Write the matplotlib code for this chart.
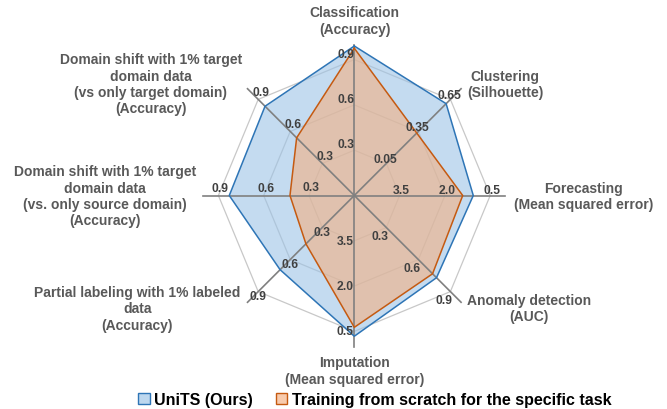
import numpy as np
import matplotlib
matplotlib.use("Agg")
import matplotlib.pyplot as plt
from matplotlib.patches import Patch

plt.rcParams['font.family'] = ['Liberation Sans', 'DejaVu Sans']
plt.rcParams['font.weight'] = 'bold'

# axes, clockwise from the top
categories = ["Classification\n(Accuracy)",
              "Clustering\n(Silhouette)",
              "Forecasting\n(Mean squared error)",
              "Anomaly detection\n(AUC)",
              "Imputation\n(Mean squared error)",
              "Partial labeling with 1% labeled\ndata\n(Accuracy)",
              "Domain shift with 1% target\ndomain data\n(vs. only source domain)\n(Accuracy)",
              "Domain shift with 1% target\ndomain data\n(vs only target domain)\n(Accuracy)"]
tick_labels = [["0.3", "0.6", "0.9"],
               ["0.05", "0.35", "0.65"],
               ["3.5", "2.0", "0.5"],
               ["0.3", "0.6", "0.9"],
               ["3.5", "2.0", "0.5"],
               ["0.3", "0.6", "0.9"],
               ["0.3", "0.6", "0.9"],
               ["0.3", "0.6", "0.9"]]
# value at inner ring / value at outer ring for each axis
scale_lo = [0.3, 0.05, 3.5, 0.3, 3.5, 0.3, 0.3, 0.3]
scale_hi = [0.9, 0.65, 0.5, 0.9, 0.5, 0.9, 0.9, 0.9]

units = [0.99, 0.61, 1.06, 0.77, 0.34, 0.695, 0.828, 0.836]
scratch = [0.975, 0.335, 1.41, 0.733, 0.635, 0.453, 0.426, 0.54]
series_names = ["UniTS (Ours)", "Training from scratch for the specific task"]

# ---- layout (pixels of the 667x410 picture) ----
W, H = 667, 410
cx, cy, R = 354.3, 196.5, 151.0

def px(x, y):
    # pixel position -> data coords
    return (x - cx) / R, (cy - y) / R

def to_r(i, v):
    return 0.3 + 0.6 * (v - scale_lo[i]) / (scale_hi[i] - scale_lo[i])

n = len(categories)
ang = np.arange(n) * 2 * np.pi / n
sx, sy = np.sin(ang), np.cos(ang)

fig = plt.figure(figsize=(W / 100, H / 100), dpi=100)
ax = fig.add_axes([0, 0, 1, 1])
ax.set_xlim(-cx / R, (W - cx) / R)
ax.set_ylim(-(H - cy) / R, cy / R)
ax.axis('off')

# rings
for rr in [0.3, 0.6, 0.9]:
    ax.plot(np.append(sx, sx[0]) * rr, np.append(sy, sy[0]) * rr,
            color='#c8c8c8', lw=0.9, zorder=1)

# series
blue_line, blue_fill = '#2E75B6', '#9DC3E6'
org_line, org_fill = '#C55A11', '#F4B183'
for vals, lc, fc, z in [(units, blue_line, blue_fill, 2), (scratch, org_line, org_fill, 2.5)]:
    r = np.array([to_r(i, v) for i, v in enumerate(vals)])
    xs, ys = np.append(r * sx, r[0] * sx[0]), np.append(r * sy, r[0] * sy[0])
    ax.fill(xs, ys, color=fc, alpha=0.6, lw=0, zorder=z)
    ax.plot(xs, ys, color=lc, lw=1.1, zorder=4)

# spokes
for i in range(n):
    ax.plot([0, sx[i]], [0, sy[i]], color='#808080', lw=1.2, zorder=3)

# tick labels: (ha, dx, dy) in pixels
tick_pos = [('right', 0, -6), ('center', -1, -4), ('center', 2, -5), ('center', -6, 8),
            ('right', -1, 0), ('center', 0, 4), ('center', 2, -8), ('center', 2.5, -7)]
for i in range(n):
    ha, dx, dy = tick_pos[i]
    for rr, lab in zip([0.3, 0.6, 0.9], tick_labels[i]):
        x = rr * sx[i] + dx / R
        y = rr * sy[i] - dy / R
        ax.text(x, y, lab, ha=ha, va='center', fontsize=8.7, color='#404040',
                fontweight='bold', zorder=5)

# category labels (block centres in pixels)
cat_pos = [(354.7, 21.3), (505, 85), (583.3, 197), (529, 309), (354.7, 371.7),
           (137.5, 309.2), (104.7, 196.8), (150.8, 84.8)]
for i in range(n):
    x, y = px(*cat_pos[i])
    ax.text(x, y, categories[i], ha='center', va='center', multialignment='center',
            fontsize=10, color='#595959', fontweight='bold', linespacing=1.22)

handles = [Patch(facecolor='#BDD7EE', edgecolor=blue_line, lw=1.0),
           Patch(facecolor='#F8CBAD', edgecolor=org_line, lw=1.0)]
fig.legend(handles, series_names, loc='center', bbox_to_anchor=(374.8 / W, 1 - 400.7 / H),
           ncol=2, frameon=False, prop={'size': 11.5, 'weight': 'bold'},
           handlelength=0.7, handleheight=0.7, handletextpad=0.3, columnspacing=1.4)

fig.savefig('out.png', dpi=100)
